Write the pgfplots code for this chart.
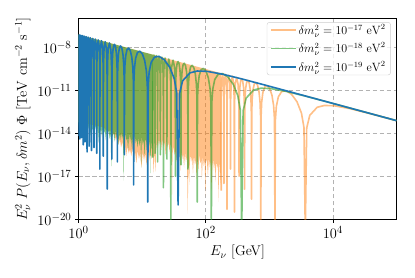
\documentclass[border=0pt]{standalone}
\usepackage{pgfplots}
\pgfplotsset{compat=1.18}
\usepackage{pgfplotstable}
\definecolor{tabblue}{RGB}{31,119,180}
\definecolor{taborange}{RGB}{255,127,14}
\definecolor{tabgreen}{RGB}{44,160,44}
\definecolor{lightorange}{RGB}{255,191,134}
\definecolor{lightgreen}{RGB}{128,198,128}

% u = log10(E/GeV), v = log10(flux)
\pgfplotstableread{
u v
-0.0022 -14.2
0.0013 -7.808
0.0097 -7.132
0.0182 -7.828
0.0219 -14.4
0.0257 -7.837
0.0345 -7.161
0.0436 -7.858
0.0475 -14.3
0.0514 -7.868
0.0609 -7.193
0.0704 -7.891
0.0746 -14.8
0.0788 -7.901
0.0889 -7.227
0.0991 -7.925
0.1036 -14.6
0.1080 -7.936
0.1188 -7.263
0.1298 -7.962
0.1346 -15.3
0.1393 -7.973
0.1510 -7.301
0.1628 -8.001
0.1681 -14.9
0.1731 -8.014
0.1858 -7.343
0.1986 -8.044
0.2043 -15.2
0.2062 -8.978
0.2119 -7.836
0.2236 -7.388
0.2356 -7.864
0.2417 -9.021
0.2438 -15.0
0.2459 -9.026
0.2521 -7.884
0.2650 -7.438
0.2782 -7.915
0.2850 -9.073
0.2872 -15.4
0.2896 -9.079
0.2965 -7.937
0.3107 -7.493
0.3255 -7.972
0.3330 -9.131
0.3356 -16.5
0.3381 -9.137
0.3459 -7.997
0.3619 -7.554
0.3785 -8.036
0.3870 -9.195
0.3899 -15.6
0.3929 -9.202
0.4017 -8.064
0.4199 -7.624
0.4389 -8.108
0.4487 -9.269
0.4521 -17.9
0.4555 -9.278
0.4657 -8.140
0.4868 -7.704
0.5091 -8.193
0.5206 -9.356
0.5246 -15.8
0.5266 -9.962
0.5306 -9.021
0.5387 -8.330
0.5511 -7.920
0.5660 -7.799
0.5815 -7.956
0.5952 -8.398
0.6046 -9.110
0.6094 -10.061
0.6118 -16.0
0.6142 -10.067
0.6191 -9.127
0.6290 -8.439
0.6443 -8.032
0.6629 -7.915
0.6823 -8.077
0.6997 -8.524
0.7117 -9.238
0.7178 -10.191
0.7209 -15.5
0.7240 -10.199
0.7303 -9.260
0.7432 -8.576
0.7632 -8.174
0.7879 -8.065
0.8140 -8.235
0.8377 -8.689
0.8542 -9.409
0.8627 -10.365
0.8670 -17.6
0.8714 -10.376
0.8803 -9.440
0.8986 -8.762
0.9275 -8.372
0.9639 -8.277
1.0037 -8.463
1.0410 -8.933
1.0677 -9.665
1.0817 -10.628
1.0889 -18.8
1.0962 -10.645
1.1112 -9.717
1.1428 -9.055
1.1949 -8.692
1.2650 -8.638
1.3485 -8.877
1.4357 -9.407
1.5053 -10.190
1.5448 -11.184
1.5660 -19.0
1.5883 -11.236
1.6366 -10.348
1.7531 -9.788
1.8670 -9.661
2.0219 -9.685
2.2650 -9.882
2.5660 -10.210
2.8670 -10.563
3.2650 -11.038
5.0000 -13.120
}\blueline

\pgfplotstableread{
u v
1.1681 -15.7
1.1731 -9.214
1.1858 -8.543
1.1986 -9.244
1.2043 -15.4
1.2062 -10.178
1.2119 -9.036
1.2236 -8.588
1.2356 -9.064
1.2417 -10.221
1.2438 -16.0
1.2459 -10.226
1.2521 -9.084
1.2650 -8.638
1.2782 -9.115
1.2850 -10.273
1.2872 -15.5
1.2896 -10.279
1.2965 -9.137
1.3107 -8.693
1.3255 -9.172
1.3330 -10.331
1.3356 -17.8
1.3381 -10.337
1.3459 -9.197
1.3619 -8.754
1.3785 -9.236
1.3870 -10.395
1.3899 -15.8
1.3929 -10.402
1.4017 -9.264
1.4199 -8.824
1.4389 -9.308
1.4487 -10.469
1.4521 -21
1.4555 -10.478
1.4657 -9.340
1.4868 -8.904
1.5091 -9.393
1.5206 -10.556
1.5246 -17.0
1.5266 -11.162
1.5306 -10.221
1.5387 -9.530
1.5511 -9.120
1.5660 -8.999
1.5815 -9.156
1.5952 -9.598
1.6046 -10.310
1.6094 -11.261
1.6118 -16.2
1.6142 -11.267
1.6191 -10.327
1.6290 -9.639
1.6443 -9.232
1.6629 -9.115
1.6823 -9.277
1.6997 -9.724
1.7117 -10.438
1.7178 -11.391
1.7209 -16.5
1.7240 -11.399
1.7303 -10.460
1.7432 -9.776
1.7632 -9.374
1.7879 -9.265
1.8140 -9.435
1.8377 -9.889
1.8542 -10.609
1.8627 -11.565
1.8670 -18.8
1.8714 -11.576
1.8803 -10.640
1.8986 -9.962
1.9275 -9.572
1.9639 -9.477
2.0037 -9.663
2.0410 -10.133
2.0677 -10.865
2.0817 -11.828
2.0889 -21
2.0962 -11.845
2.1112 -10.917
2.1428 -10.255
2.1949 -9.892
2.2650 -9.838
2.3485 -10.077
2.4357 -10.607
2.5053 -11.390
2.5448 -12.384
2.5660 -21
2.5883 -12.436
2.6366 -11.548
2.7531 -10.988
2.8670 -10.861
3.0219 -10.885
3.2650 -11.082
3.5660 -11.410
3.8670 -11.763
4.2650 -12.238
5.0000 -13.120
}\greenline

\pgfplotstableread{
u v
2.2438 -18.0
2.2459 -11.426
2.2521 -10.284
2.2650 -9.838
2.2782 -10.315
2.2850 -11.473
2.2872 -17.5
2.2896 -11.479
2.2965 -10.337
2.3107 -9.893
2.3255 -10.372
2.3330 -11.531
2.3356 -19.3
2.3381 -11.537
2.3459 -10.397
2.3619 -9.954
2.3785 -10.436
2.3870 -11.595
2.3899 -16.5
2.3929 -11.602
2.4017 -10.464
2.4199 -10.024
2.4389 -10.508
2.4487 -11.669
2.4521 -19.5
2.4555 -11.678
2.4657 -10.540
2.4868 -10.104
2.5091 -10.593
2.5206 -11.756
2.5246 -17.0
2.5266 -12.362
2.5306 -11.421
2.5387 -10.730
2.5511 -10.320
2.5660 -10.199
2.5815 -10.356
2.5952 -10.798
2.6046 -11.510
2.6094 -12.461
2.6118 -17.9
2.6142 -12.467
2.6191 -11.527
2.6290 -10.839
2.6443 -10.432
2.6629 -10.315
2.6823 -10.477
2.6997 -10.924
2.7117 -11.638
2.7178 -12.591
2.7209 -18.6
2.7240 -12.599
2.7303 -11.660
2.7432 -10.976
2.7632 -10.574
2.7879 -10.465
2.8140 -10.635
2.8377 -11.089
2.8542 -11.809
2.8627 -12.765
2.8670 -21
2.8714 -12.776
2.8803 -11.840
2.8986 -11.162
2.9275 -10.772
2.9639 -10.677
3.0037 -10.863
3.0410 -11.333
3.0677 -12.065
3.0817 -13.028
3.0889 -21
3.0962 -13.045
3.1112 -12.117
3.1428 -11.455
3.1949 -11.092
3.2650 -11.038
3.3485 -11.277
3.4357 -11.807
3.5053 -12.590
3.5448 -13.584
3.5660 -21
3.5883 -13.636
3.6366 -12.748
3.7531 -12.188
3.8670 -12.061
4.0219 -12.085
4.2650 -12.282
4.5660 -12.610
4.8670 -12.963
5.0000 -13.122
}\orangeline

\pgfplotstableread{
u v
0 -7.12
1.1681 -8.522
1.1681 -15.7
1.160 -14.6
1.150 -15.2
1.140 -14.4
1.132 -16.8
1.125 -14.5
1.110 -14.9
1.095 -14.3
1.080 -15.3
1.065 -14.6
1.050 -14.4
1.040 -15.6
1.025 -14.5
1.010 -14.8
0.995 -14.2
0.985 -16.4
0.975 -14.4
0.960 -14.9
0.945 -14.3
0.930 -15.0
0.915 -14.4
0.900 -14.7
0.885 -14.1
0.870 -14.8
0.855 -14.3
0.840 -15.1
0.825 -14.2
0.810 -14.6
0.795 -14.0
0.780 -15.2
0.765 -14.3
0.750 -14.5
0.735 -14.0
0.720 -14.6
0.709 -17.3
0.700 -14.1
0.685 -14.4
0.670 -13.9
0.655 -14.5
0.640 -14.0
0.625 -14.8
0.610 -13.9
0.595 -14.3
0.580 -13.8
0.565 -14.6
0.550 -13.9
0.535 -14.2
0.515 -16.3
0.505 -13.9
0.490 -14.4
0.475 -13.8
0.460 -14.1
0.445 -13.7
0.430 -14.5
0.415 -13.8
0.400 -14.0
0.385 -13.6
0.370 -14.3
0.355 -13.7
0.340 -13.9
0.325 -13.5
0.310 -14.6
0.295 -13.6
0.280 -13.9
0.265 -13.5
0.250 -14.0
0.235 -13.4
0.220 -13.8
0.205 -13.5
0.190 -14.2
0.175 -13.4
0.160 -13.7
0.145 -13.3
0.130 -13.9
0.115 -13.4
0.100 -13.6
0.085 -13.2
0.070 -13.8
0.055 -13.3
0.040 -13.5
0.025 -13.2
0.010 -13.7
0 -13.3
}\greenfill

\pgfplotstableread{
u v
0 -7.12
2.2438 -9.813
2.2438 -18.0
2.236 -16.2
2.228 -17.6
2.220 -16.0
2.210 -16.5
2.200 -18.8
2.192 -16.1
2.180 -16.4
2.168 -15.9
2.155 -17.4
2.145 -16.0
2.130 -16.6
2.118 -15.8
2.105 -16.3
2.090 -18.0
2.080 -15.9
2.065 -16.4
2.050 -15.7
2.035 -17.0
2.020 -16.0
2.005 -15.8
1.995 -18.4
1.985 -15.9
1.970 -16.3
1.955 -15.6
1.940 -17.2
1.930 -15.9
1.915 -16.1
1.900 -15.5
1.885 -16.6
1.870 -15.7
1.855 -17.2
1.845 -15.8
1.830 -16.2
1.815 -15.5
1.800 -16.8
1.785 -15.6
1.770 -16.0
1.755 -15.4
1.740 -17.6
1.730 -15.7
1.717 -19.6
1.705 -15.5
1.690 -16.0
1.675 -15.3
1.660 -16.4
1.645 -15.4
1.630 -15.8
1.615 -15.2
1.600 -16.6
1.585 -15.3
1.570 -15.6
1.555 -15.0
1.540 -16.0
1.525 -15.2
1.510 -15.5
1.495 -14.9
1.480 -15.4
1.470 -18.3
1.460 -15.0
1.445 -14.7
1.430 -15.3
1.415 -14.6
1.400 -15.0
1.385 -14.5
1.370 -15.6
1.355 -14.6
1.340 -14.9
1.325 -14.4
1.310 -15.2
1.295 -14.5
1.280 -14.8
1.265 -14.4
1.250 -15.0
1.235 -14.6
1.220 -15.3
1.210 -16.7
1.195 -15.2
1.180 -16.8
1.170 -15.4
1.150 -15.8
1.130 -15.2
1.110 -15.9
1.090 -15.3
1.070 -16.2
1.050 -15.4
1.030 -15.9
1.010 -15.3
0.990 -16.4
0.970 -15.4
0.950 -15.8
0.930 -15.2
0.910 -16.1
0.890 -15.3
0.870 -15.7
0.850 -15.0
0.830 -15.6
0.810 -15.1
0.790 -15.4
0.770 -14.9
0.750 -15.6
0.730 -14.8
0.710 -15.2
0.690 -14.6
0.670 -15.0
0.650 -14.4
0.630 -14.8
0.610 -14.2
0.590 -14.5
0.560 -14.0
0.530 -14.2
0.500 -13.8
0.450 -13.9
0.400 -13.6
0.300 -13.5
0.200 -13.4
0.100 -13.3
0 -13.2
}\orangefill

\begin{document}
\begin{tikzpicture}
\useasboundingbox (-78.5pt,-57.7pt) rectangle (336.5pt,219.3pt);
\begin{axis}[
  at={(0pt,0pt)}, anchor=south west,
  scale only axis, width=318pt, height=200.8pt,
  xmode=log, ymode=log,
  xmin=1, xmax=1e5, ymin=1e-20, ymax=1e-6,
  xtick={1,100,10000}, ytick={1e-20,1e-17,1e-14,1e-11,1e-8},
  xminorticks=false, yminorticks=false,
  xtick pos=bottom, ytick pos=left,
  tick align=outside,
  major tick length=3.5pt,
  every tick/.style={black, line width=0.8pt},
  axis line style={line width=0.8pt, black},
  grid=major,
  major grid style={dash pattern=on 4.5pt off 2.5pt, black!30, line width=0.8pt},
  tick label style={font=\fontsize{15}{18}\selectfont},
  label style={font=\fontsize{14}{17}\selectfont},
  xlabel={$E_\nu$ [GeV]},
  ylabel={$E_\nu^2\ P(E_\nu, \delta m^2)\ \Phi\ [\mathrm{TeV\ cm^{-2}\ s^{-1}}]$},
  no markers,
  legend style={at={(0.982,0.982)}, anchor=north east, draw=black!20, rounded corners=2.5pt,
    fill=white, fill opacity=0.8, text opacity=1, font=\fontsize{11.5}{13}\selectfont,
    inner xsep=3pt, inner ysep=0pt, row sep=2.8pt},
  legend cell align=left,
  legend image code/.code={\draw[#1] (0pt,0pt) -- (25pt,0pt);},
  table/x expr={10^\thisrow{u}}, table/y expr={10^\thisrow{v}},
]
\addlegendimage{lightorange, line width=1.6pt}
\addlegendentry{$\delta m_\nu^2 = 10^{-17}\ \mathrm{eV}^2$}
\addlegendimage{lightgreen, line width=1.6pt}
\addlegendentry{$\delta m_\nu^2 = 10^{-18}\ \mathrm{eV}^2$}
\addlegendimage{tabblue, line width=1.6pt}
\addlegendentry{$\delta m_\nu^2 = 10^{-19}\ \mathrm{eV}^2$}

\addplot[forget plot, fill=taborange, fill opacity=0.5, draw opacity=0] table {\orangefill} -- cycle;
\addplot[forget plot, taborange, draw opacity=0.5, line width=1.6pt, line join=round] table {\orangeline};
\addplot[forget plot, fill=tabgreen, fill opacity=0.6, draw opacity=0] table {\greenfill} -- cycle;
\addplot[forget plot, tabgreen, draw opacity=0.6, line width=1.6pt, line join=round] table {\greenline};
\addplot[forget plot, tabblue, line width=1.6pt, line join=round] table {\blueline};
\end{axis}
\end{tikzpicture}
\end{document}
